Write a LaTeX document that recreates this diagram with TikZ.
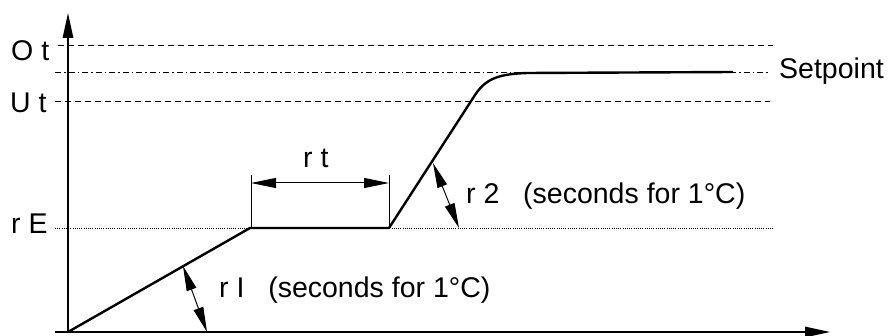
\documentclass[tikz,border=0pt]{standalone}
\usepackage{fontspec}
\setmainfont{Liberation Sans}
\usetikzlibrary{arrows.meta}
\begin{document}
\begin{tikzpicture}[x=1pt,y=-1pt,
  lbl/.style={inner sep=0pt, anchor=base west, font=\fontsize{28.5}{30}\selectfont},
  axisline/.style={line width=1.3pt, -{Triangle[length=25pt,width=10.5pt]}},
  dimline/.style={line width=1pt, {Triangle[length=25pt,width=10pt]}-{Triangle[length=25pt,width=10pt]}},
  tickline/.style={line width=1pt},
  limitline/.style={line width=1pt, dash pattern=on 6pt off 4pt},
  spline/.style={line width=0.9pt, dash pattern=on 6pt off 3pt on 1.5pt off 3pt},
  reline/.style={line width=0.8pt, dash pattern=on 1pt off 1.2pt},
  ramp/.style={line width=2.4pt, line join=round}]
\useasboundingbox (0,0) rectangle (891,336);

% coordinates
\coordinate (org) at (68,332);
\coordinate (ytip) at (68,13);
\coordinate (xstart) at (55,332);
\coordinate (xtip) at (830,332);
\coordinate (ot1) at (58,46);   \coordinate (ot2) at (773,46);
\coordinate (sp1) at (55,72);   \coordinate (sp2) at (770,72);
\coordinate (ut1) at (55,102);  \coordinate (ut2) at (770,102);
\coordinate (re1) at (55,228);  \coordinate (re2) at (774,228);
\coordinate (k1) at (250,228);
\coordinate (k2) at (389,228);
\coordinate (k3) at (475,95);
\coordinate (k4) at (527,73);
\coordinate (k5) at (733,72);
\coordinate (t1a) at (251,228); \coordinate (t1b) at (251,175);
\coordinate (t2a) at (389,228); \coordinate (t2b) at (389,175);
\coordinate (d1) at (251,183);  \coordinate (d2) at (389,183);
\coordinate (a1) at (183,266);  \coordinate (a2) at (207,332);
\coordinate (b1) at (433,163);  \coordinate (b2) at (459,228);

% reference lines
\draw[limitline] (ot1) -- (ot2);
\draw[spline] (sp1) -- (sp2);
\draw[limitline] (ut1) -- (ut2);
\draw[reline] (re1) -- (re2);

% axes
\draw[axisline] (org) -- (ytip);
\draw[axisline] (xstart) -- (xtip);

% ramp profile
\draw[ramp] (org) -- (k1) -- (k2) -- (k3) .. controls (486,78) and (500,74) .. (k4) -- (k5);

% rt dimension
\draw[tickline] (t1a) -- (t1b);
\draw[tickline] (t2a) -- (t2b);
\draw[dimline] (d1) -- (d2);

% angle arrows
\draw[dimline] (a1) -- (a2);
\draw[dimline] (b1) -- (b2);

% labels
\node[lbl] (lot) at (11,61) {O t};
\node[lbl] (lut) at (10,113) {U t};
\node[lbl] (lre) at (11,234) {r E};
\node[lbl] (lsp) at (779,79) {Setpoint};
\node[lbl] (lrt) at (303,168) {r t};
\node[lbl] (lr2) at (466,204) {r 2\hspace{0.834em}(seconds for 1°C)};
\node[lbl] (lr1) at (219,298) {r I\hspace{0.834em}(seconds for 1°C)};
\end{tikzpicture}
\end{document}
